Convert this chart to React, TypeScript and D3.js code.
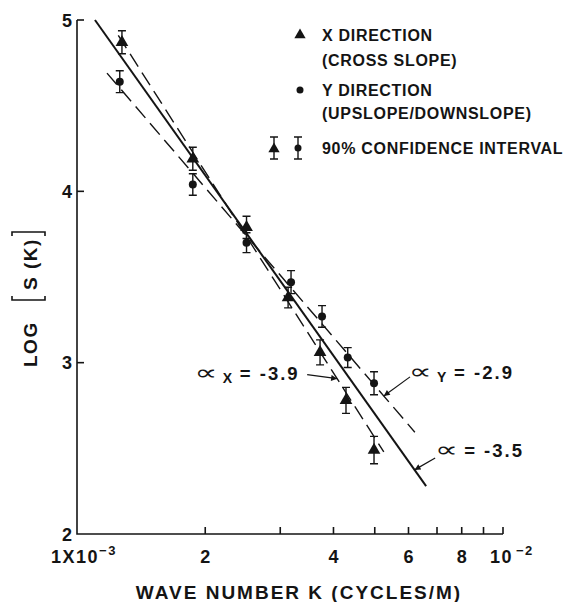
import * as React from 'react';
import {useEffect, useRef} from 'react';
import * as d3 from 'd3';

// X direction (cross slope) - triangles
const kX = [1.275e-3, 1.87e-3, 2.5e-3, 3.13e-3, 3.72e-3, 4.28e-3, 4.98e-3];
const logSX = [4.87, 4.19, 3.79, 3.38, 3.06, 2.78, 2.49];
const errX = [0.067, 0.067, 0.065, 0.06, 0.073, 0.076, 0.08];

// Y direction (upslope/downslope) - dots
const kY = [1.26e-3, 1.87e-3, 2.5e-3, 3.18e-3, 3.76e-3, 4.32e-3, 4.98e-3];
const logSY = [4.64, 4.04, 3.70, 3.47, 3.27, 3.03, 2.88];
const errY = [0.064, 0.063, 0.058, 0.067, 0.063, 0.058, 0.067];

// fitted lines: X (dashed), Y (dashed), combined (solid)
const fitAlpha = [-3.9, -2.9, -3.5];
const fitStartK = [1.25e-3, 1.176e-3, 1.102e-3];
const fitStartS = [4.91, 4.69, 5.0];
const fitEndK = [5.25e-3, 6.21e-3, 6.6e-3];
const fitDashed = [true, true, false];

// annotation: subscript, text position, arrow tip k
const annSub = ['X', 'Y', ''];
const annValue = ['= -3.9', '= -2.9', '= -3.5'];
const annTextK = [1.89e-3, 6.02e-3, 6.93e-3];
const annTextS = [2.90, 2.905, 2.45];
const annTailK = [3.47e-3, 6.05e-3, 6.93e-3];
const annTailS = [2.93, 2.917, 2.444];
const annTipK = [4.08e-3, 5.25e-3, 6.2e-3];

const xTicks = [2e-3, 3e-3, 4e-3, 5e-3, 6e-3, 7e-3, 8e-3, 9e-3, 1e-2];
const xTickLabels = [2e-3, 4e-3, 6e-3, 8e-3];
const yTicks = [2, 3, 4, 5];

const FONT = '"Liberation Sans", Arial, "DejaVu Sans", sans-serif';
const INK = '#141414';

function App() {
    const ref = useRef<SVGSVGElement>(null);

    useEffect(() => {
        const svg = d3.select(ref.current);
        svg.selectAll('*').remove();

        const x = d3.scaleLog().domain([1e-3, 1e-2]).range([77, 503]);
        const y = d3.scaleLinear().domain([2, 5]).range([534, 20]);

        svg.append('defs').append('marker')
            .attr('id', 'arr')
            .attr('viewBox', '0 0 10 10')
            .attr('refX', 10).attr('refY', 5)
            .attr('markerWidth', 8).attr('markerHeight', 6)
            .attr('markerUnits', 'userSpaceOnUse')
            .attr('orient', 'auto')
            .append('path')
            .attr('d', 'M0,0 L10,5 L0,10 Z')
            .attr('fill', INK);

        // axes
        const axes = svg.append('g').attr('stroke', INK).attr('stroke-width', 1.6).attr('fill', 'none');
        axes.append('path').attr('d', `M${x(1e-3)},${y(5)} V${y(2)} H${x(1e-2)}`);
        axes.selectAll('.yt').data(yTicks.slice(1)).enter().append('line')
            .attr('x1', x(1e-3)).attr('x2', x(1e-3) + 7)
            .attr('y1', d => y(d)).attr('y2', d => y(d));
        axes.selectAll('.xt').data(xTicks).enter().append('line')
            .attr('x1', d => x(d)).attr('x2', d => x(d))
            .attr('y1', y(2)).attr('y2', y(2) - 7);

        const txt = (g: any) => g.attr('font-family', FONT).attr('font-weight', 'bold').attr('fill', INK);

        svg.selectAll('.ylab').data(yTicks).enter().append('text')
            .call(txt)
            .attr('x', 72).attr('y', d => y(d) + 6.5)
            .attr('text-anchor', 'end').attr('font-size', 18)
            .text(d => d);

        svg.selectAll('.xlab').data(xTickLabels).enter().append('text')
            .call(txt)
            .attr('x', d => x(d)).attr('y', 563)
            .attr('text-anchor', 'middle').attr('font-size', 18)
            .text(d => Math.round(d * 1000));

        const first = svg.append('text').call(txt).attr('x', 51).attr('y', 563).attr('font-size', 18).attr('letter-spacing', 1.5);
        first.append('tspan').text('1X10');
        first.append('tspan').attr('dy', -8).attr('font-size', 13).text('−3');

        const last = svg.append('text').call(txt).attr('x', 490).attr('y', 563).attr('font-size', 18).attr('letter-spacing', 1.5);
        last.append('tspan').text('10');
        last.append('tspan').attr('dx', 3).attr('dy', -8).attr('font-size', 13).text('−2');

        svg.append('text').call(txt)
            .attr('x', 299).attr('y', 599)
            .attr('text-anchor', 'middle').attr('font-size', 19).attr('letter-spacing', 2)
            .text('WAVE NUMBER K (CYCLES/M)');

        // y label
        const yl = svg.append('g').attr('transform', 'translate(37,300) rotate(-90)');
        yl.append('text').call(txt).attr('x', -67).attr('y', 0).attr('font-size', 19).attr('letter-spacing', 1.5).text('LOG');
        yl.append('text').call(txt).attr('x', 10).attr('y', 0).attr('font-size', 19).attr('letter-spacing', 1.5).text('S (K)');
        const br = yl.append('g').attr('stroke', INK).attr('stroke-width', 1.6).attr('fill', 'none');
        br.append('path').attr('d', 'M4,-25 H0 V8 H4');
        br.append('path').attr('d', 'M64,-25 H68 V8 H64');

        // fitted lines
        fitAlpha.forEach((a, i) => {
            const line = d3.line<number>().x(k => x(k)).y(k => y(fitStartS[i] + a * Math.log10(k / fitStartK[i])));
            svg.append('path')
                .attr('d', line([fitStartK[i], fitEndK[i]]))
                .attr('stroke', INK).attr('fill', 'none')
                .attr('stroke-width', fitDashed[i] ? 1.4 : 2)
                .attr('stroke-dasharray', fitDashed[i] ? '15 7' : null);
        });

        // error bars
        const errBar = (g: any, cx: number, y0: number, y1: number) => {
            g.append('path')
                .attr('d', `M${cx},${y0} V${y1} M${cx - 4},${y0} H${cx + 4} M${cx - 4},${y1} H${cx + 4}`)
                .attr('stroke', INK).attr('stroke-width', 1.4).attr('fill', 'none');
        };
        const tri = d3.symbol(d3.symbolTriangle, 70)();
        const triSmall = d3.symbol(d3.symbolTriangle, 55)();

        kX.forEach((k, i) => {
            errBar(svg, x(k), y(logSX[i] + errX[i]), y(logSX[i] - errX[i]));
            svg.append('path').attr('d', tri).attr('transform', `translate(${x(k)},${y(logSX[i])})`).attr('fill', INK);
        });
        kY.forEach((k, i) => {
            errBar(svg, x(k), y(logSY[i] + errY[i]), y(logSY[i] - errY[i]));
            svg.append('circle').attr('cx', x(k)).attr('cy', y(logSY[i])).attr('r', 4).attr('fill', INK);
        });

        // annotations
        annSub.forEach((s, i) => {
            const g = svg.append('g').attr('transform', `translate(${x(annTextK[i])},${y(annTextS[i])})`);
            g.append('text')
                .attr('transform', 'translate(0,0) scale(1.6,1.1)')
                .attr('font-family', '"DejaVu Sans", sans-serif')
                .attr('font-size', 20).attr('fill', INK)
                .text('∝');
            let off = 29;
            if (s) {
                g.append('text').call(txt)
                    .attr('x', 28).attr('y', 3).attr('font-size', 14).text(s);
                off = 45;
            }
            g.append('text').call(txt)
                .attr('x', off).attr('y', 0)
                .attr('font-size', 18.5).attr('letter-spacing', 2)
                .text(annValue[i]);
            const tipS = fitStartS[i] + fitAlpha[i] * Math.log10(annTipK[i] / fitStartK[i]);
            svg.append('line')
                .attr('x1', x(annTailK[i])).attr('y1', y(annTailS[i]))
                .attr('x2', x(annTipK[i])).attr('y2', y(tipS))
                .attr('stroke', INK).attr('stroke-width', 1.2)
                .attr('marker-end', 'url(#arr)');
        });

        // legend
        const lg = svg.append('g').attr('font-size', 16);
        lg.append('path').attr('d', triSmall).attr('transform', 'translate(300,35)').attr('fill', INK);
        lg.append('circle').attr('cx', 300).attr('cy', 90).attr('r', 3.5).attr('fill', INK);
        errBar(lg, 274, 137, 159);
        lg.append('path').attr('d', triSmall).attr('transform', 'translate(274,149)').attr('fill', INK);
        errBar(lg, 298, 137, 159);
        lg.append('circle').attr('cx', 298).attr('cy', 148).attr('r', 3.5).attr('fill', INK);
        const legendLines = ['X DIRECTION', '(CROSS SLOPE)', 'Y DIRECTION', '(UPSLOPE/DOWNSLOPE)', '90% CONFIDENCE INTERVAL'];
        const legendY = [41, 66, 96, 119, 154];
        legendLines.forEach((l, i) => {
            lg.append('text').call(txt).attr('x', 322).attr('y', legendY[i]).attr('letter-spacing', 0.7).text(l);
        });
    }, []);

    return (
        <svg ref={ref} width={572} height={602}
             style={{position: 'absolute', left: 0, top: 0, background: '#fff'}}/>
    );
}

export default App;
